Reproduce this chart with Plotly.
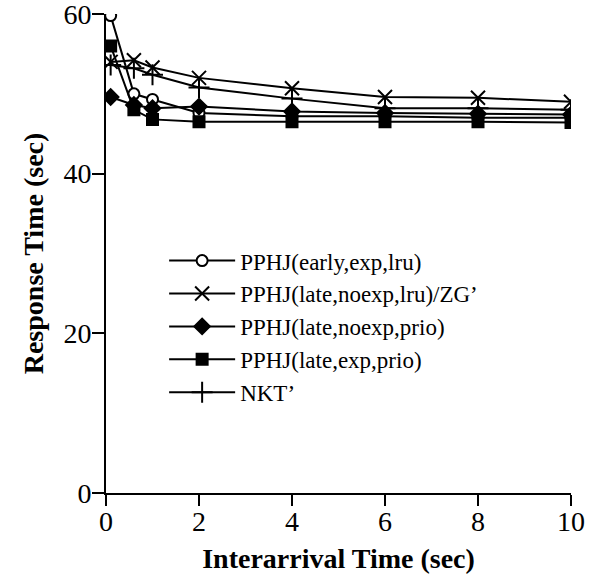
import plotly.graph_objects as go

x_vals = [0.1, 0.6, 1, 2, 4, 6, 8, 10]
early_exp_lru = [59.8, 50.0, 49.3, 47.6, 47.2, 47.2, 47.0, 47.0]
late_noexp_lru = [54.0, 54.2, 53.3, 52.0, 50.7, 49.6, 49.5, 49.0]
late_noexp_prio = [49.6, 48.6, 48.2, 48.4, 47.8, 47.6, 47.5, 47.4]
late_exp_prio = [56.0, 48.0, 46.8, 46.5, 46.5, 46.5, 46.5, 46.4]
nkt = [53.6, 53.2, 52.4, 50.8, 49.4, 48.2, 48.2, 48.0]

names = ["PPHJ(early,exp,lru)", "PPHJ(late,noexp,lru)/ZG\u2019",
         "PPHJ(late,noexp,prio)", "PPHJ(late,exp,prio)", "NKT\u2019"]
series = [early_exp_lru, late_noexp_lru, late_noexp_prio, late_exp_prio, nkt]
symbols = ["circle", "x-thin-open", "diamond", "square", "cross-thin-open"]
fills = ["white", "black", "black", "black", "black"]
sizes = [11, 14, 12, 11, 15]

fig = go.Figure()
for name, ys, sym, fc, sz in zip(names, series, symbols, fills, sizes):
    fig.add_trace(go.Scatter(
        x=x_vals, y=ys, name=name, mode="lines+markers",
        line=dict(color="black", width=2),
        marker=dict(symbol=sym, size=sz, color=fc,
                    line=dict(color="black", width=2)),
    ))

font_family = "Liberation Serif, Times New Roman, serif"
fig.update_layout(
    width=602, height=584,
    margin=dict(l=106, r=31, t=14, b=91),
    paper_bgcolor="white", plot_bgcolor="white",
    font=dict(family=font_family, color="black", size=22),
    showlegend=True,
    legend=dict(x=0.125, y=0.53, xanchor="left", yanchor="top",
                bgcolor="rgba(0,0,0,0)", font=dict(size=23, family=font_family),
                itemwidth=66, tracegroupgap=0),
    xaxis=dict(range=[0, 10], tickvals=[0, 2, 4, 6, 8, 10], showline=True,
               linecolor="black", linewidth=2, ticks="outside", ticklen=11,
               tickwidth=2, tickcolor="black", showgrid=False, zeroline=False,
               tickfont=dict(size=28), automargin=False, ticklabeloverflow="allow",
               ticklabelstandoff=-9,
               title=dict(text="<b>Interarrival Time (sec)</b>", font=dict(size=28), standoff=13)),
    yaxis=dict(range=[0, 60], tickvals=[0, 20, 40, 60], showline=True,
               linecolor="black", linewidth=2, ticks="outside", ticklen=12,
               tickwidth=2, tickcolor="black", showgrid=False, zeroline=False,
               tickfont=dict(size=28), automargin=False, ticklabeloverflow="allow",
               ticklabelstandoff=-5,
               title=dict(text="<b>Response Time (sec)</b>", font=dict(size=28), standoff=12)),
)

fig.write_html("out.html", config={"displayModeBar": False},
               post_script="document.body.style.margin='0px';")
